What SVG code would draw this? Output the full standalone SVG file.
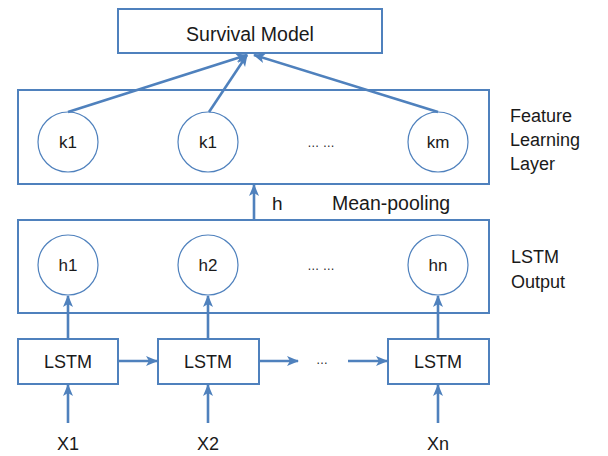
<svg xmlns="http://www.w3.org/2000/svg" width="608" height="456" viewBox="0 0 608 456">
  <style>
    .box { fill: #ffffff; stroke: #4f81bd; stroke-width: 2; }
    .unit { fill: #ffffff; stroke: #4f81bd; stroke-width: 1.2; }
    .lbl { font-family: "Liberation Sans", Arial, sans-serif; fill: #1a1a1a; }
    .mid { text-anchor: middle; }
    .edge { fill: none; stroke: #4f81bd; stroke-width: 2.6; marker-end: url(#arrow); }
  </style>
  <defs>
    <marker id="arrow" markerUnits="userSpaceOnUse" markerWidth="12" markerHeight="12" viewBox="0 0 12 12" refX="11" refY="6" orient="auto">
      <path d="M0,1 L12,6 L0,11 L3,6 z" fill="#4f81bd"/>
    </marker>
  </defs>

  <rect width="608" height="456" fill="#ffffff"/>

  <!-- layer frames -->
  <g id="feature-layer">
    <rect class="box" x="18" y="90" width="471" height="94"/>
    <text class="lbl" x="510" y="122" font-size="18">Feature</text>
    <text class="lbl" x="510" y="146" font-size="18">Learning</text>
    <text class="lbl" x="510" y="170" font-size="18">Layer</text>
  </g>
  <g id="lstm-output-layer">
    <rect class="box" x="18" y="220" width="471" height="93"/>
    <text class="lbl" x="511" y="263" font-size="18">LSTM</text>
    <text class="lbl" x="511" y="288" font-size="18">Output</text>
  </g>

  <!-- survival model -->
  <g id="survival-model">
    <rect class="box" x="118" y="9" width="264" height="44"/>
    <text class="lbl mid" x="250" y="41" font-size="19.5">Survival Model</text>
  </g>

  <!-- feature units -->
  <g id="k1a">
    <circle class="unit" cx="68" cy="142" r="30"/>
    <text class="lbl mid" x="68" y="148" font-size="17">k1</text>
  </g>
  <g id="k1b">
    <circle class="unit" cx="208" cy="142" r="30"/>
    <text class="lbl mid" x="208" y="148" font-size="17">k1</text>
  </g>
  <g id="k-ellipsis">
    <text class="lbl mid" x="321" y="147" font-size="12">… …</text>
  </g>
  <g id="km">
    <circle class="unit" cx="438" cy="142" r="30"/>
    <text class="lbl mid" x="438" y="148" font-size="17">km</text>
  </g>

  <!-- pooling labels -->
  <g id="pooling">
    <text class="lbl" x="272" y="210" font-size="19">h</text>
    <text class="lbl" x="332" y="210" font-size="19.5">Mean-pooling</text>
  </g>

  <!-- LSTM outputs -->
  <g id="h1">
    <circle class="unit" cx="68" cy="265" r="30"/>
    <text class="lbl mid" x="68" y="271" font-size="17">h1</text>
  </g>
  <g id="h2">
    <circle class="unit" cx="208" cy="265" r="30"/>
    <text class="lbl mid" x="208" y="271" font-size="17">h2</text>
  </g>
  <g id="h-ellipsis">
    <text class="lbl mid" x="321" y="270" font-size="12">… …</text>
  </g>
  <g id="hn">
    <circle class="unit" cx="438" cy="265" r="30"/>
    <text class="lbl mid" x="438" y="271" font-size="17">hn</text>
  </g>

  <!-- LSTM cells -->
  <g id="lstm1">
    <rect class="box" x="18" y="339" width="100" height="45"/>
    <text class="lbl mid" x="68" y="368" font-size="18">LSTM</text>
  </g>
  <g id="lstm2">
    <rect class="box" x="158" y="339" width="101" height="45"/>
    <text class="lbl mid" x="208" y="368" font-size="18">LSTM</text>
  </g>
  <g id="lstm-ellipsis">
    <text class="lbl mid" x="322" y="364" font-size="12">…</text>
  </g>
  <g id="lstmn">
    <rect class="box" x="388" y="339" width="101" height="45"/>
    <text class="lbl mid" x="438" y="368" font-size="18">LSTM</text>
  </g>

  <!-- inputs -->
  <g id="x1"><text class="lbl mid" x="68" y="450" font-size="18">X1</text></g>
  <g id="x2"><text class="lbl mid" x="208" y="450" font-size="18">X2</text></g>
  <g id="xn"><text class="lbl mid" x="438" y="450" font-size="18">Xn</text></g>

  <!-- connectors -->
  <g id="connectors">
    <path class="edge" d="M68,112 L247,55"/>
    <path class="edge" d="M209,112 L247,55"/>
    <path class="edge" d="M438,112 L254,55"/>
    <path class="edge" d="M254,219 L254,185"/>
    <path class="edge" d="M68,339 L68,296"/>
    <path class="edge" d="M208,339 L208,296"/>
    <path class="edge" d="M438,339 L438,296"/>
    <path class="edge" d="M118,361 L157,361"/>
    <path class="edge" d="M259,361 L298,361"/>
    <path class="edge" d="M348,361 L387,361"/>
    <path class="edge" d="M68,423 L68,385"/>
    <path class="edge" d="M208,423 L208,385"/>
    <path class="edge" d="M438,423 L438,385"/>
  </g>
</svg>
